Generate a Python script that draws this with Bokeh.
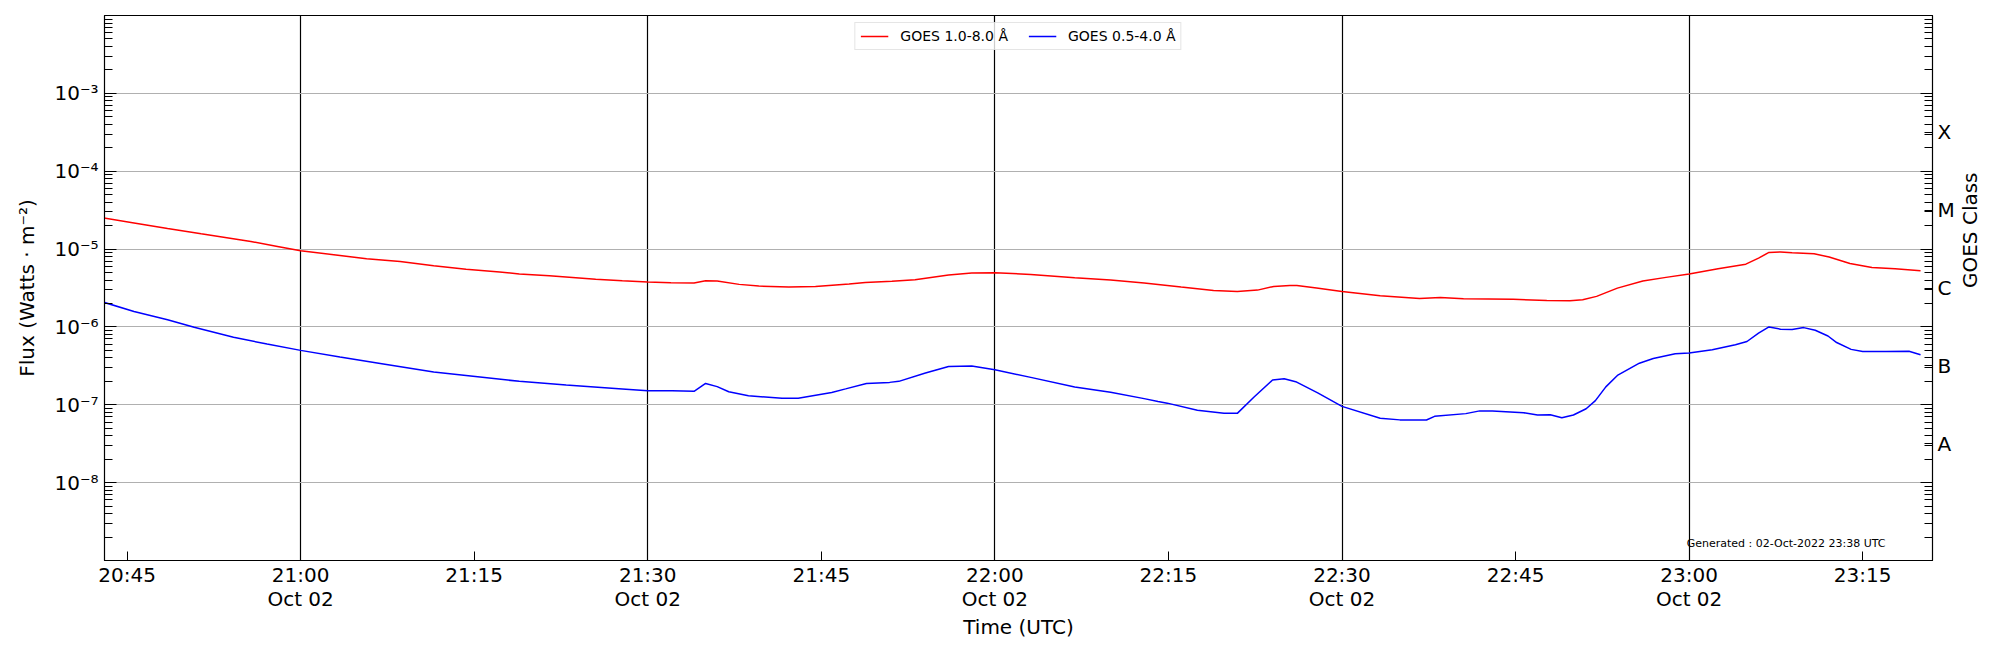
import math
from datetime import datetime
from bokeh.plotting import figure
from bokeh.models import (Range1d, LogAxis, FixedTicker, CustomJSTickFormatter,
                          Legend, LegendItem, Label, ColumnDataSource)
from bokeh.embed import file_html
from bokeh.resources import INLINE

DATE = "2022-10-02"

# GOES 1.0-8.0 A (long channel)
long_times = ["20:43:00", "20:45:36", "20:48:30", "20:51:24", "20:55:42", "20:58:00", "21:00:00",
              "21:03:24", "21:05:42", "21:08:36", "21:11:30", "21:14:18", "21:17:12", "21:18:54",
              "21:21:30", "21:25:30", "21:27:48", "21:30:00", "21:32:00", "21:34:00", "21:35:00",
              "21:36:00", "21:37:54", "21:39:36", "21:42:12", "21:44:30", "21:47:24", "21:48:48",
              "21:51:06", "21:53:06", "21:56:00", "21:58:00", "22:00:00", "22:03:06", "22:06:54",
              "22:10:00", "22:12:54", "22:16:06", "22:18:54", "22:20:57", "22:22:42", "22:24:06",
              "22:25:30", "22:26:06", "22:27:48", "22:30:00", "22:33:18", "22:36:42", "22:38:30",
              "22:40:30", "22:44:48", "22:47:42", "22:49:42", "22:50:48", "22:52:00", "22:53:48",
              "22:56:00", "22:58:00", "23:00:00", "23:02:30", "23:04:54", "23:06:00", "23:06:54",
              "23:07:54", "23:08:54", "23:10:48", "23:12:06", "23:13:54", "23:15:48", "23:17:48",
              "23:20:00"]
long_flux = [2.50e-5, 2.16e-5, 1.84e-5, 1.57e-5, 1.25e-5, 1.08e-5, 9.5e-6,
             8.28e-6, 7.5e-6, 6.9e-6, 6.1e-6, 5.5e-6, 5.07e-6, 4.8e-6,
             4.54e-6, 4.11e-6, 3.92e-6, 3.77e-6, 3.70e-6, 3.66e-6, 3.92e-6,
             3.89e-6, 3.52e-6, 3.35e-6, 3.25e-6, 3.31e-6, 3.55e-6, 3.73e-6,
             3.85e-6, 4.03e-6, 4.64e-6, 4.92e-6, 4.97e-6, 4.72e-6, 4.28e-6,
             4.00e-6, 3.66e-6, 3.25e-6, 2.94e-6, 2.86e-6, 2.97e-6, 3.31e-6,
             3.41e-6, 3.41e-6, 3.16e-6, 2.86e-6, 2.51e-6, 2.32e-6, 2.39e-6,
             2.30e-6, 2.26e-6, 2.19e-6, 2.17e-6, 2.23e-6, 2.47e-6, 3.15e-6,
             3.90e-6, 4.33e-6, 4.80e-6, 5.60e-6, 6.40e-6, 7.66e-6, 9.05e-6,
             9.20e-6, 9.00e-6, 8.70e-6, 7.90e-6, 6.53e-6, 5.80e-6, 5.58e-6,
             5.26e-6]

# GOES 0.5-4.0 A (short channel)
short_times = ["20:43:00", "20:45:36", "20:48:30", "20:50:48", "20:54:12", "20:57:06", "21:00:00",
               "21:03:24", "21:07:09", "21:11:30", "21:14:54", "21:18:54", "21:22:57", "21:27:48",
               "21:30:00", "21:32:06", "21:34:00", "21:35:00", "21:36:00", "21:37:00", "21:38:42",
               "21:41:36", "21:43:00", "21:45:54", "21:47:06", "21:48:54", "21:50:54", "21:51:42",
               "21:54:00", "21:56:00", "21:58:00", "22:00:00", "22:03:06", "22:06:54", "22:10:00",
               "22:12:54", "22:14:06", "22:14:54", "22:17:30", "22:19:48", "22:20:57", "22:22:24",
               "22:24:00", "22:25:00", "22:26:00", "22:27:54", "22:30:00", "22:33:18", "22:35:00",
               "22:37:18", "22:38:00", "22:40:42", "22:41:54", "22:43:00", "22:45:42", "22:46:54",
               "22:48:00", "22:49:00", "22:50:00", "22:51:06", "22:51:54", "22:52:48", "22:53:48",
               "22:55:42", "22:56:54", "22:58:48", "23:00:00", "23:02:00", "23:04:00", "23:05:00",
               "23:06:00", "23:06:54", "23:07:54", "23:08:54", "23:09:54", "23:10:54", "23:12:00",
               "23:12:45", "23:14:00", "23:15:00", "23:17:00", "23:19:00", "23:20:00"]
short_flux = [2.07e-6, 1.58e-6, 1.24e-6, 9.9e-7, 7.35e-7, 6.03e-7, 5.0e-7,
              4.1e-7, 3.34e-7, 2.63e-7, 2.32e-7, 2.0e-7, 1.79e-7, 1.60e-7,
              1.52e-7, 1.52e-7, 1.49e-7, 1.88e-7, 1.71e-7, 1.47e-7, 1.31e-7,
              1.21e-7, 1.21e-7, 1.44e-7, 1.60e-7, 1.88e-7, 1.94e-7, 2.00e-7,
              2.56e-7, 3.11e-7, 3.15e-7, 2.82e-7, 2.25e-7, 1.69e-7, 1.45e-7,
              1.20e-7, 1.10e-7, 1.05e-7, 8.5e-8, 7.76e-8, 7.76e-8, 1.26e-7,
              2.08e-7, 2.16e-7, 1.98e-7, 1.42e-7, 9.55e-8, 6.7e-8, 6.4e-8,
              6.38e-8, 7.1e-8, 7.7e-8, 8.35e-8, 8.35e-8, 7.9e-8, 7.4e-8,
              7.45e-8, 6.8e-8, 7.4e-8, 8.9e-8, 1.13e-7, 1.70e-7, 2.38e-7,
              3.42e-7, 3.93e-7, 4.53e-7, 4.62e-7, 5.10e-7, 5.90e-7, 6.50e-7,
              8.30e-7, 1.00e-6, 9.35e-7, 9.25e-7, 9.80e-7, 9.05e-7, 7.65e-7,
              6.3e-7, 5.15e-7, 4.85e-7, 4.85e-7, 4.87e-7, 4.40e-7]

x_tick_times = ["20:45", "21:00", "21:15", "21:30", "21:45", "22:00", "22:15",
                "22:30", "22:45", "23:00", "23:15"]
x_tick_labels = ["20:45", "21:00\nOct 02", "21:15", "21:30\nOct 02", "21:45", "22:00\nOct 02",
                 "22:15", "22:30\nOct 02", "22:45", "23:00\nOct 02", "23:15"]
vline_times = ["21:00", "21:30", "22:00", "22:30", "23:00"]
y_tick_values = [1e-8, 1e-7, 1e-6, 1e-5, 1e-4, 1e-3]
y_tick_labels = ["10\u207b\u2078", "10\u207b\u2077", "10\u207b\u2076",
                 "10\u207b\u2075", "10\u207b\u2074", "10\u207b\u00b3"]
class_values = [10 ** -7.5, 10 ** -6.5, 10 ** -5.5, 10 ** -4.5, 10 ** -3.5]
class_labels = ["A", "B", "C", "M", "X"]
x_start, x_end = "20:43:03", "23:21:02"
y_start, y_end = 1e-9, 1e-2
generated_text = "Generated : 02-Oct-2022 23:38 UTC"
right_label = "GOES Class"

FONT = "DejaVu Sans"
EPOCH = datetime(1970, 1, 1)


def ts(s):
    if s.count(":") == 1:
        s = s + ":00"
    return datetime.strptime(DATE + " " + s, "%Y-%m-%d %H:%M:%S")


def ms(s):
    return (ts(s) - EPOCH).total_seconds() * 1000.0


label_js = """
for (let i = 0; i < vals.length; i++) {
    if (Math.abs(vals[i] - tick) <= 1e-9 * Math.abs(vals[i])) { return labs[i]; }
}
return "";
"""

p = figure(width=1996, height=650, x_axis_type="datetime", y_axis_type="log",
           x_range=Range1d(ts(x_start), ts(x_end)), y_range=Range1d(y_start, y_end),
           output_backend="svg", toolbar_location=None,
           min_border_left=104, min_border_right=58, min_border_top=15, min_border_bottom=90)
p.background_fill_color = "white"
p.border_fill_color = "white"
p.outline_line_color = "black"
p.outline_line_width = 1.2
p.outline_line_alpha = 1.0

src_long = ColumnDataSource(dict(t=[ts(s) for s in long_times], f=long_flux))
src_short = ColumnDataSource(dict(t=[ts(s) for s in short_times], f=short_flux))
r1 = p.line("t", "f", source=src_long, line_color="#ff0000", line_width=1.5)
r2 = p.line("t", "f", source=src_short, line_color="#0000ff", line_width=1.5)

# grids
p.xgrid.ticker = FixedTicker(ticks=[ms(s) for s in vline_times])
p.xgrid.grid_line_color = "black"
p.xgrid.grid_line_width = 1.2
p.ygrid.ticker = FixedTicker(ticks=y_tick_values)
p.ygrid.grid_line_color = "#b0b0b0"
p.ygrid.grid_line_width = 1.2

minor_log = [m * 10.0 ** e for e in range(-9, -2) for m in range(2, 10)]

# x axis
xa = p.xaxis[0]
xa.ticker = FixedTicker(ticks=[ms(s) for s in x_tick_times], minor_ticks=[])
xa.formatter = CustomJSTickFormatter(args=dict(vals=[ms(s) for s in x_tick_times], labs=x_tick_labels),
                                     code=label_js)
xa.major_tick_in = 9
xa.major_tick_out = 0
xa.minor_tick_in = 0
xa.minor_tick_out = 0
xa.major_label_standoff = 2
xa.major_label_text_font = FONT
xa.major_label_text_font_size = "20px"
xa.major_label_text_color = "black"
xa.major_label_text_line_height = 1.0
xa.axis_label = "Time (UTC)"
xa.axis_label_text_font = FONT
xa.axis_label_text_font_size = "20px"
xa.axis_label_text_font_style = "normal"
xa.axis_label_text_color = "black"
xa.axis_label_text_line_height = 1.0
xa.axis_label_standoff = 1
xa.axis_line_color = "black"
xa.major_tick_line_color = "black"

# left y axis
ya = p.yaxis[0]
ya.ticker = FixedTicker(ticks=y_tick_values, minor_ticks=minor_log)
ya.formatter = CustomJSTickFormatter(args=dict(vals=y_tick_values, labs=y_tick_labels), code=label_js)
ya.major_tick_in = 12
ya.major_tick_out = 0
ya.minor_tick_in = 8
ya.minor_tick_out = 0
ya.major_label_standoff = 6
ya.major_label_text_font = FONT
ya.major_label_text_font_size = "20px"
ya.major_label_text_color = "black"
ya.axis_label = "Flux (Watts \u00b7 m\u207b\u00b2)"
ya.axis_label_text_font = FONT
ya.axis_label_text_font_size = "20px"
ya.axis_label_text_font_style = "normal"
ya.axis_label_text_color = "black"
ya.axis_label_standoff = 12
ya.axis_line_color = "black"
ya.major_tick_line_color = "black"
ya.minor_tick_line_color = "black"

# right axis: ticks only
ra = LogAxis(ticker=FixedTicker(ticks=[10.0 ** e for e in range(-9, -1)],
                                minor_ticks=minor_log + class_values),
             formatter=CustomJSTickFormatter(code="return '';"),
             major_tick_in=12, major_tick_out=0, minor_tick_in=8, minor_tick_out=0,
             major_label_standoff=0, major_label_text_font_size="0px",
             axis_line_color="black", major_tick_line_color="black", minor_tick_line_color="black")
p.add_layout(ra, "right")
# right axis: GOES class labels
ca = LogAxis(ticker=FixedTicker(ticks=class_values, minor_ticks=[]),
             formatter=CustomJSTickFormatter(args=dict(vals=class_values, labs=class_labels), code=label_js),
             major_tick_in=0, major_tick_out=0, minor_tick_in=0, minor_tick_out=0,
             axis_line_color=None, major_label_standoff=5,
             major_label_text_font=FONT, major_label_text_font_size="20px",
             major_label_text_color="black",
             axis_label=right_label, axis_label_text_font=FONT,
             axis_label_text_font_size="20px", axis_label_text_font_style="normal",
             axis_label_text_color="black", axis_label_standoff=12)
try:
    ca.axis_label_orientation = math.pi / 2
except Exception:
    pass
p.add_layout(ca, "right")

legend = Legend(items=[LegendItem(label="GOES 1.0-8.0 \u00c5", renderers=[r1]),
                       LegendItem(label="GOES 0.5-4.0 \u00c5", renderers=[r2])],
                location="top_center", orientation="horizontal",
                label_text_font=FONT, label_text_font_size="14px", label_text_color="black",
                glyph_width=28, glyph_height=14, label_standoff=12, spacing=20,
                padding=5, margin=7, border_line_color="#cccccc", border_line_width=1,
                background_fill_alpha=0.8)
p.add_layout(legend)

p.add_layout(Label(x=ts(x_end), y=10 ** -8.78, x_offset=-47, text=generated_text,
                   text_align="right", text_baseline="middle",
                   text_font=FONT, text_font_size="11px", text_color="black"))

open("out.html", "w").write(file_html(p, INLINE))
